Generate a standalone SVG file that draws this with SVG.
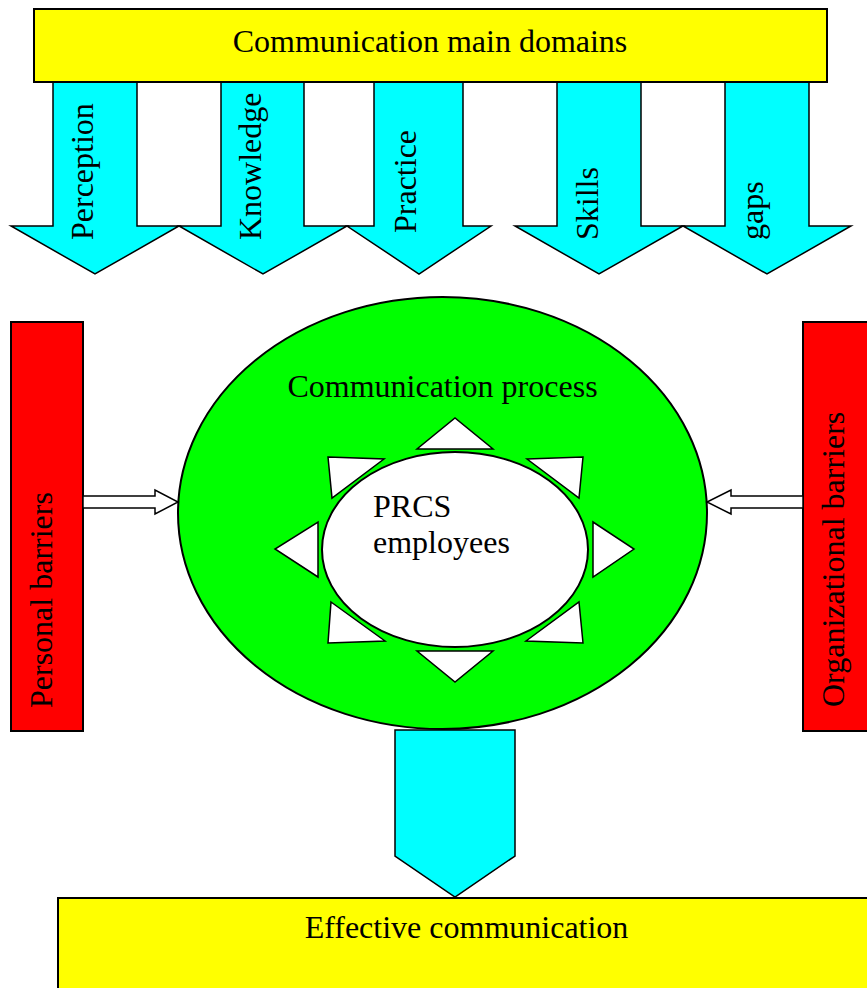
<svg xmlns="http://www.w3.org/2000/svg" width="867" height="988" viewBox="0 0 867 988">
<style>
text{font-family:"Liberation Serif","Times New Roman",serif;font-size:32px;fill:#000}
.cy{fill:#00FFFF;stroke:#000;stroke-width:1.5;stroke-linejoin:miter}
.yl{fill:#FFFF00;stroke:#000;stroke-width:2}
.rd{fill:#FF0000;stroke:#000;stroke-width:2}
.wh{fill:#FFFFFF;stroke:#000;stroke-width:1.5}
.gr{fill:#00FF00;stroke:#000;stroke-width:2}
</style>
<rect width="867" height="988" fill="#fff"/>
<g id="arrows-domains">
<g id="perception"><polygon class="cy" points="53,82 137,82 137,226 179,226 95,274 11,226 53,226"/><text transform="translate(93,240) rotate(-90)">Perception</text></g>
<g id="knowledge"><polygon class="cy" points="221,82 304,82 304,226 347,226 263,274 179,226 221,226"/><text transform="translate(261,240) rotate(-90)">Knowledge</text></g>
<g id="practice"><polygon class="cy" points="374,82 463,82 463,226 491,226 419,274 347,226 374,226"/><text transform="translate(416,233) rotate(-90)">Practice</text></g>
<g id="skills"><polygon class="cy" points="557,82 641,82 641,226 683,226 599,274 515,226 557,226"/><text transform="translate(598,240) rotate(-90)">Skills</text></g>
<g id="gaps"><polygon class="cy" points="725,82 809,82 809,226 851,226 767,274 683,226 725,226"/><text transform="translate(763,240) rotate(-90)">gaps</text></g>
</g>
<g id="main-domains"><rect class="yl" x="34" y="9" width="793" height="73"/><text x="430" y="52" text-anchor="middle">Communication main domains</text></g>
<g id="personal-barriers"><rect class="rd" x="11" y="322" width="72" height="409"/><text transform="translate(52,708) rotate(-90)">Personal barriers</text></g>
<g id="organizational-barriers"><rect class="rd" x="803" y="322" width="72" height="409"/><text transform="translate(844,707) rotate(-90)">Organizational barriers</text></g>
<g id="communication-process">
<ellipse class="gr" cx="442.5" cy="513" rx="264.5" ry="216"/>
<text x="442.5" y="397" text-anchor="middle">Communication process</text>
</g>
<g id="prcs-employees">
<ellipse class="wh" cx="455" cy="549.5" rx="133" ry="97.5" style="stroke-width:2"/>
<g id="rays">
<polygon class="wh" points="417,449 493,449 455,418"/>
<polygon class="wh" points="417,651 493,651 455,682"/>
<polygon class="wh" points="318,522 318,577 275,549"/>
<polygon class="wh" points="593,522 593,577 634,549"/>
<polygon class="wh" points="328,457 384,459 332,498"/>
<polygon class="wh" points="527,459 583,457 579,498"/>
<polygon class="wh" points="331,602 385,641 328,643"/>
<polygon class="wh" points="579,602 583,643 526,641"/>
</g>
<text x="373" y="517">PRCS</text>
<text x="373" y="553">employees</text>
</g>
<g id="effective-communication"><rect class="yl" x="58" y="898" width="817" height="100"/><text x="466.5" y="938" text-anchor="middle">Effective communication</text></g>
<g id="connectors">
<polygon class="wh" points="83,496 155,496 155,490 178,502 155,514 155,508 83,508"/>
<polygon class="wh" points="803,496 731,496 731,490 707,502 731,514 731,508 803,508"/>
<polygon class="cy" points="395,730 515,730 515,856 455,897 395,856"/>
</g>
</svg>
